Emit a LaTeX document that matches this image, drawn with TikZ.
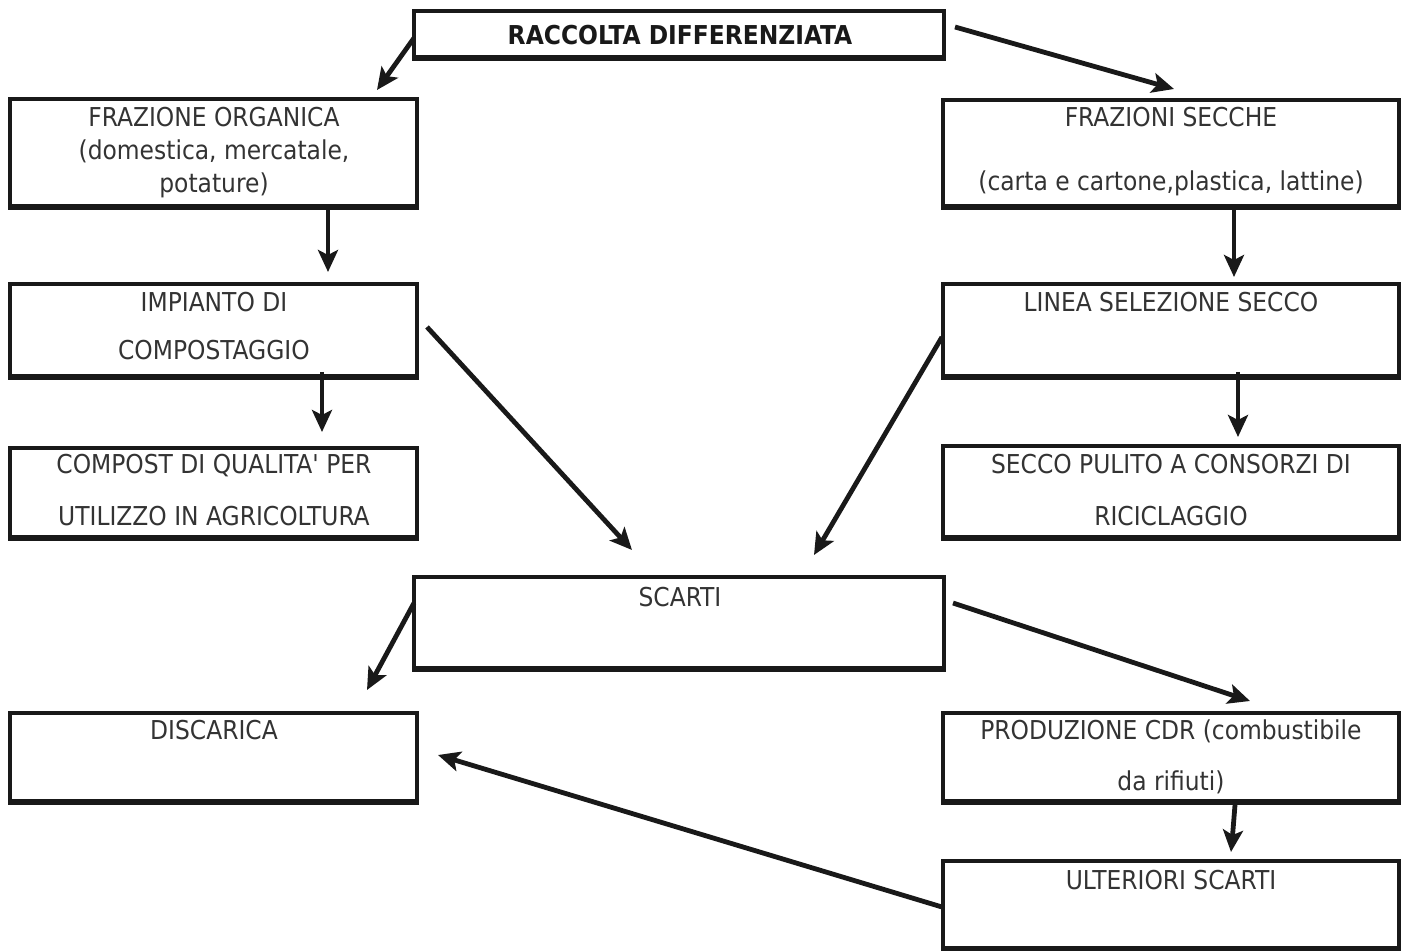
\documentclass[tikz,border=0pt]{standalone}
\usepackage{fontspec}
\newfontfamily\diagfont{DejaVu Sans Condensed}
\usetikzlibrary{arrows.meta,calc}
\tikzset{
  box/.style={draw=black!90, line width=1.6pt, rectangle, inner sep=0pt},
  txt/.style={anchor=base, inner sep=0pt, text=black!80, font=\diagfont\fontsize{13}{15}\selectfont},
  btxt/.style={txt, text=black!90, font=\diagfont\fontsize{13}{15}\selectfont\bfseries},
  arr/.style={line width=2.4pt, black!90, -{Stealth[length=11pt,width=10pt,inset=2.5pt]}},
}
\newcommand{\mkbox}[6]{% name, x1, y1, x2, y2
  \node[box, minimum width={(#4-#2)*0.5pt}, minimum height={(#5-#3)*0.5pt}] (#1) at ({(#2+#4)/2},{(#3+#5)/2}) {};
  \draw[line width=2.8pt, black!90] (#1.south west) -- (#1.south east);
}
\begin{document}
\begin{tikzpicture}[x=0.5pt,y=-0.5pt]
\useasboundingbox (0,0) rectangle (1404,951);
\mkbox{rac}{414}{11}{944}{57}{}
\mkbox{fo}{10}{99}{417}{206}{}
\mkbox{fs}{943}{100}{1399}{206}{}
\mkbox{imp}{10}{284}{417}{376}{}
\mkbox{lin}{943}{284}{1399}{376}{}
\mkbox{comp}{10}{448}{417}{537}{}
\mkbox{sec}{943}{446}{1399}{537}{}
\mkbox{sca}{414}{577}{944}{668}{}
\mkbox{dis}{10}{713}{417}{801}{}
\mkbox{cdr}{943}{713}{1399}{801}{}
\mkbox{ult}{943}{861}{1399}{948}{}

\node[btxt] (t1) at (680,45) {RACCOLTA DIFFERENZIATA};
\node[txt] (t2a) at (214,127) {FRAZIONE ORGANICA};
\node[txt] (t2b) at (214,160) {(domestica, mercatale,};
\node[txt] (t2c) at (214,193) {potature)};
\node[txt] (t3a) at (1171,127) {FRAZIONI SECCHE};
\node[txt] (t3b) at (1171,191) {(carta e cartone,plastica, lattine)};
\node[txt] (t4a) at (214,312) {IMPIANTO DI};
\node[txt] (t4b) at (214,360) {COMPOSTAGGIO};
\node[txt] (t5) at (1171,312) {LINEA SELEZIONE SECCO};
\node[txt] (t6a) at (214,474) {COMPOST DI QUALITA' PER};
\node[txt] (t6b) at (214,526) {UTILIZZO IN AGRICOLTURA};
\node[txt] (t7a) at (1171,474) {SECCO PULITO A CONSORZI DI};
\node[txt] (t7b) at (1171,526) {RICICLAGGIO};
\node[txt] (t8) at (680,607) {SCARTI};
\node[txt] (t9) at (214,740) {DISCARICA};
\node[txt] (t10a) at (1171,740) {PRODUZIONE CDR (combustibile};
\node[txt] (t10b) at (1171,791) {da rifiuti)};
\node[txt] (t11) at (1171,890) {ULTERIORI SCARTI};

% arrow end points
\coordinate (a1s) at (414,38);   \coordinate (a1e) at (377,90);
\coordinate (a2s) at (955,27);   \coordinate (a2e) at (1174,89);
\coordinate (a3s) at (328,208);  \coordinate (a3e) at (328,272);
\coordinate (a4s) at (1234,206); \coordinate (a4e) at (1234,277);
\coordinate (a5s) at (322,372);  \coordinate (a5e) at (322,432);
\coordinate (a6s) at (427,327);  \coordinate (a6e) at (632,550);
\coordinate (a7s) at (942,337);  \coordinate (a7e) at (814,555);
\coordinate (a8s) at (1238,372); \coordinate (a8e) at (1238,437);
\coordinate (a9s) at (414,603);  \coordinate (a9e) at (367,690);
\coordinate (a10s) at (953,603); \coordinate (a10e) at (1250,701);
\coordinate (a11s) at (1235,805); \coordinate (a11e) at (1231,852);
\coordinate (a12s) at (942,907); \coordinate (a12e) at (438,755);

\draw[arr] (a1s) -- (a1e);
\draw[arr] (a2s) -- (a2e);
\draw[arr] (a3s) -- (a3e);
\draw[arr] (a4s) -- (a4e);
\draw[arr] (a5s) -- (a5e);
\draw[arr] (a6s) -- (a6e);
\draw[arr] (a7s) -- (a7e);
\draw[arr] (a8s) -- (a8e);
\draw[arr] (a9s) -- (a9e);
\draw[arr] (a10s) -- (a10e);
\draw[arr] (a11s) .. controls (1233,830) .. (a11e);
\draw[arr] (a12s) -- (a12e);
\end{tikzpicture}
\end{document}
